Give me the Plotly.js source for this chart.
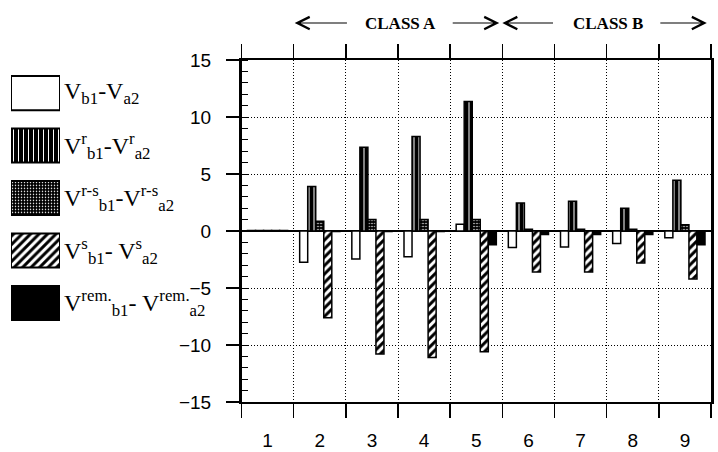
<!DOCTYPE html>
<html>
<head>
<meta charset="utf-8">
<script src="https://cdn.plot.ly/plotly-3.0.1.min.js"></script>
<style>html,body{margin:0;padding:0;background:#fff;}#chart{width:718px;height:452px;}</style>
</head>
<body>
<div id="chart"></div>
<script>
// ---- data ----
const categories = [1, 2, 3, 4, 5, 6, 7, 8, 9];
const tickLabels = ['1', '2', '3', '4', '5', '6', '7', '8', '9'];
const vDiff    = [0.05, -2.75, -2.45, -2.25, 0.6, -1.45, -1.4, -1.1, -0.6];
const vR       = [0.05, 3.9, 7.35, 8.3, 11.35, 2.45, 2.6, 2.0, 4.45];
const vRS      = [0.05, 0.85, 1.0, 1.0, 1.0, 0.15, 0.15, 0.15, 0.55];
const vS       = [0.05, -7.6, -10.8, -11.1, -10.6, -3.6, -3.6, -2.8, -4.2];
const vRem     = [0.05, -0.05, -0.05, -0.05, -1.2, -0.3, -0.3, -0.3, -1.2];
const seriesKeys = ['d', 'r', 'rs', 's', 'rem'];
const seriesLabels = [
  'V<sub>b1</sub>-V<sub>a2</sub>',
  'V<sup>r</sup><sub>b1</sub>-V<sup>r</sup><sub>a2</sub>',
  'V<sup>r-s</sup><sub>b1</sub>-V<sup>r-s</sup><sub>a2</sub>',
  'V<sup>s</sup><sub>b1</sub>- V<sup>s</sup><sub>a2</sub>',
  'V<sup>rem.</sup><sub>b1</sub>- V<sup>rem.</sup><sub>a2</sub>'
];
const swatchLength = [1];
const classLabels = ['CLASS A', 'CLASS B'];

// ---- styles ----
const styles = [
  {color: '#ffffff', pattern: {shape: ''}},
  {color: '#000000', pattern: {shape: '|', fgcolor: '#ffffff', bgcolor: '#000000', size: 5, solidity: 0.2, fillmode: 'replace'}},
  {color: '#000000', pattern: {shape: '.', fgcolor: '#ffffff', bgcolor: '#000000', size: 3, solidity: 0.2, fillmode: 'replace'}},
  {color: '#ffffff', pattern: {shape: '/', fgcolor: '#000000', bgcolor: '#ffffff', size: 6, solidity: 0.5, fillmode: 'replace'}},
  {color: '#000000', pattern: {shape: ''}}
];
const seriesValues = [vDiff, vR, vRS, vS, vRem];

const traces = [];
seriesValues.forEach((vals, i) => {
  traces.push({
    type: 'bar', x: categories, y: vals, xaxis: 'x', yaxis: 'y',
    marker: {color: styles[i].color, pattern: styles[i].pattern, line: {color: '#000', width: 1.5}},
    showlegend: false, hoverinfo: 'skip'
  });
});
// legend swatches as horizontal bars on their own little axis
seriesKeys.forEach((k, i) => {
  traces.push({
    type: 'bar', orientation: 'h', x: swatchLength, y: [k], xaxis: 'x3', yaxis: 'y3', width: 0.65,
    marker: {color: styles[i].color, pattern: styles[i].pattern, line: {color: '#000', width: 2}},
    showlegend: false, hoverinfo: 'skip'
  });
});

const W = 711;
const tickFont = {family: 'Liberation Sans, Arial, sans-serif', size: 19, color: '#000'};
const annotations = [];
seriesKeys.forEach((k, i) => {
  annotations.push({xref: 'paper', yref: 'y3', x: 62 / W, y: k, xanchor: 'left', yanchor: 'middle',
    text: seriesLabels[i], showarrow: false,
    font: {family: 'Liberation Serif, DejaVu Serif, serif', size: 24, color: '#000'}});
});
// class arrows
const arrowY = 1.108;
const arrowDefs = [[2.55, 1.52], [4.52, 5.44], [6.5, 5.5], [8.5, 9.42]];
arrowDefs.forEach(a => {
  annotations.push({xref: 'x', yref: 'paper', x: a[1], y: arrowY, axref: 'x', ayref: 'pixel', ax: a[0], ay: 0,
    text: '', showarrow: true, arrowhead: 5, arrowsize: 2.2, arrowwidth: 1.1, arrowcolor: '#000', standoff: 0, startstandoff: 0});
});
[[3.55, classLabels[0]], [7.53, classLabels[1]]].forEach(c => {
  annotations.push({xref: 'x', yref: 'paper', x: c[0], y: arrowY, text: c[1], showarrow: false,
    xanchor: 'center', yanchor: 'middle',
    font: {family: 'Liberation Serif, DejaVu Serif, serif', size: 17, color: '#000', weight: 'bold'}});
});

const layout = {
  width: 718, height: 452,
  margin: {l: 0, r: 7, t: 60, b: 50},
  paper_bgcolor: '#fff', plot_bgcolor: '#fff',
  barmode: 'group', bargap: 0.23, bargroupgap: 0,
  showlegend: false,
  xaxis: {
    domain: [241.5 / W, 1], range: [0.5, 9.5], anchor: 'y',
    tickmode: 'array', tickvals: categories, ticktext: tickLabels, ticks: '',
    tickfont: tickFont, ticklabelstandoff: 20,
    showgrid: false, zeroline: false,
    showline: true, linecolor: '#000', linewidth: 2, mirror: 'allticks',
    minor: {tick0: 0.5, dtick: 1, ticks: 'outside', ticklen: 14, tickwidth: 1.5, tickcolor: '#000',
      showgrid: true, gridcolor: '#000', gridwidth: 1, griddash: '1px,2px'}
  },
  xaxis2: {
    domain: [241.5 / W, 1], range: [0.5, 9.5], overlaying: 'x', anchor: 'y', side: 'bottom',
    tickmode: 'array', tickvals: [], showticklabels: false, showgrid: false, zeroline: false, showline: false,
    minor: {tick0: 0.5, dtick: 1, ticks: 'inside', ticklen: 12, tickwidth: 1.5, tickcolor: '#000', showgrid: false}
  },
  yaxis: {
    domain: [0, 1], range: [-15, 15], anchor: 'x',
    tickmode: 'linear', tick0: -15, dtick: 5,
    ticks: 'outside', ticklen: 13, tickwidth: 1.5, tickcolor: '#000',
    tickfont: tickFont, ticklabelstandoff: 11,
    showgrid: true, gridcolor: '#000', gridwidth: 1, griddash: '1px,2px',
    zeroline: true, zerolinecolor: '#000', zerolinewidth: 2,
    showline: true, linecolor: '#000', linewidth: 2.5, mirror: true,
    minor: {dtick: 1, ticks: 'inside', ticklen: 6, tickwidth: 1, tickcolor: '#000', showgrid: false}
  },
  yaxis2: {
    range: [-15, 15], overlaying: 'y', side: 'right', anchor: 'x',
    tickmode: 'linear', tick0: -15, dtick: 5, ticks: 'inside', ticklen: 10, tickwidth: 1.5, tickcolor: '#000',
    showticklabels: false, showgrid: false, zeroline: false, showline: false,
    minor: {dtick: 1, ticks: 'inside', ticklen: 6, tickwidth: 1, tickcolor: '#000', showgrid: false}
  },
  xaxis3: {domain: [11 / W, 60 / W], range: [0, 1], anchor: 'y3', visible: false, fixedrange: true},
  yaxis3: {domain: [0.2127, 0.980], range: [4.5, -0.5], type: 'category', categoryarray: seriesKeys,
    anchor: 'x3', visible: false, fixedrange: true},
  annotations: annotations
};

Plotly.newPlot('chart', traces, layout, {staticPlot: true, displayModeBar: false});
</script>
</body>
</html>
